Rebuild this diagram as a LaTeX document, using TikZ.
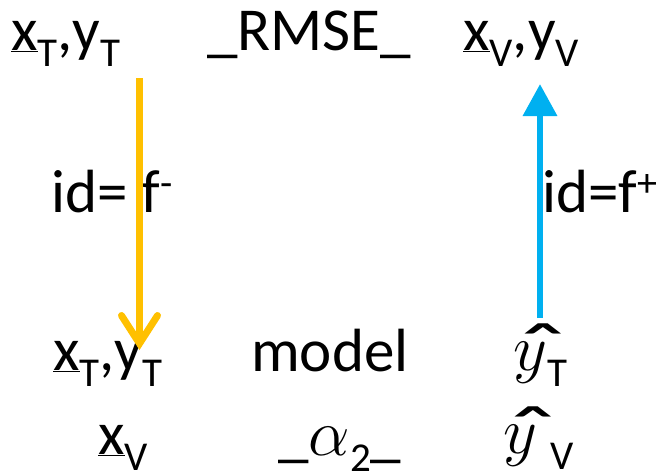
\documentclass[tikz,border=0pt]{standalone}
\usepackage{fix-cm}
\usepackage{fontspec}
\setmainfont{Carlito}
\usetikzlibrary{arrows.meta}
\definecolor{gold}{HTML}{FFC000}
\definecolor{sky}{HTML}{00B0F0}
\newcommand{\dsub}[1]{\raisebox{-16pt}{\fontsize{41}{44}\selectfont #1}}
\newcommand{\dsup}[1]{\raisebox{16pt}{\fontsize{40}{44}\selectfont #1}}
\newcommand{\yhat}{{\fontsize{66}{70}\selectfont
  \makebox[0pt][l]{\hspace{5pt}\raisebox{-9pt}{\scalebox{1.9}[1.25]{ˆ}}}$y$}}

\begin{document}
\begin{tikzpicture}[x=1pt,y=-1pt,
  lbl/.style={inner sep=0pt,anchor=base west,font=\fontsize{61}{66}\selectfont}]
  \useasboundingbox (0,0) rectangle (656,474);
  % top row
  \node[lbl] (xyT) at (11,50) {\underline{x}\dsub{T},y\dsub{T}};
  \node[lbl] (rmse) at (207,50) {\_RMSE\_};
  \node[lbl] (xyV) at (463,50) {\underline{x}\dsub{V},y\dsub{V}};
  % middle labels
  \node[lbl] (idm) at (51,212) {id= f\dsup{-}};
  \node[lbl] (idp) at (542,212) {id=f\dsup{+}};
  % lower rows
  \node[lbl] (xyTm) at (53,370) {\underline{x}\dsub{T},y\dsub{T}};
  \node[lbl] (model) at (251,371) {model};
  \node[lbl] (yhT) at (513,370) {\yhat\dsub{T}};
  \node[lbl] (xV) at (98,454) {\underline{x}\dsub{V}};
  \node[lbl] (alpha) at (278,455) {\_{\fontsize{66}{70}\selectfont$\alpha$}\dsub{2}\_};
  \node[lbl] (yhV) at (503,453) {\yhat\ \dsub{V}};
  % arrows
  \coordinate (gtop) at (139.5,78);
  \coordinate (gbot) at (139.5,350);
  \coordinate (sbot) at (540,318);
  \coordinate (stop) at (540,84);
  \draw[gold,line width=7pt,-{Straight Barb[length=28pt,width=36pt,line cap=round]}] (gtop) -- (gbot);
  \draw[sky,line width=6.5pt,-{Triangle[length=32pt,width=33pt]}] (sbot) -- (stop);
\end{tikzpicture}
\end{document}
